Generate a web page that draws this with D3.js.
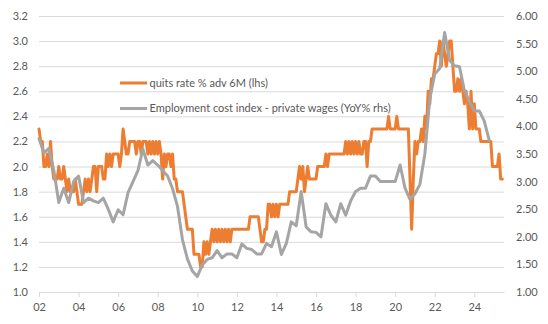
<!DOCTYPE html>
<html>
<head>
<meta charset="utf-8">
<script src="https://cdn.jsdelivr.net/npm/d3@7"></script>
<style>
  html, body { margin: 0; padding: 0; background: #fff; }
  svg { display: block; }
  text { font-family: Lato, "Open Sans", sans-serif; fill: #595959; }
</style>
</head>
<body>
<svg id="chart" width="548" height="324"></svg>
<script>
// JOLTS quits rate, advanced 6 months (monthly, first point = end of Dec 2001)
const quitsFirstMonth = { year: 2001, month: 12 };
const quitsAdv6m = [
  2.3,
  2.2, 2.2, 2.0, 2.0, 2.1, 2.0, 2.2, 2.0, 1.9, 1.9, 1.9, 2.0,   // 2002
  1.9, 1.9, 2.0, 1.9, 1.8, 1.9, 1.8, 1.8, 1.8, 1.9, 1.8, 1.7,   // 2003
  1.7, 1.7, 1.8, 1.9, 1.8, 1.9, 1.8, 1.9, 2.0, 2.0, 1.8, 2.0,   // 2004
  2.0, 2.0, 1.9, 1.9, 2.1, 2.0, 2.1, 2.0, 2.1, 2.1, 2.1, 2.1,   // 2005
  2.0, 2.1, 2.3, 2.2, 2.1, 2.1, 2.2, 2.2, 2.2, 2.2, 2.1, 2.2,   // 2006
  2.2, 2.1, 2.2, 2.2, 2.2, 2.1, 2.2, 2.1, 2.2, 2.1, 2.2, 2.1,   // 2007
  2.2, 2.1, 1.9, 2.1, 2.0, 2.1, 2.1, 2.0, 2.1, 1.9, 1.9, 1.8,   // 2008
  1.8, 1.8, 1.8, 1.7, 1.6, 1.5, 1.5, 1.5, 1.5, 1.3, 1.3, 1.3,   // 2009
  1.3, 1.2, 1.2, 1.4, 1.3, 1.4, 1.3, 1.4, 1.5, 1.4, 1.5, 1.4,   // 2010
  1.5, 1.4, 1.5, 1.4, 1.5, 1.4, 1.5, 1.4, 1.5, 1.5, 1.5, 1.5,   // 2011
  1.5, 1.5, 1.5, 1.5, 1.5, 1.5, 1.5, 1.6, 1.6, 1.6, 1.6, 1.6,   // 2012
  1.6, 1.5, 1.4, 1.4, 1.5, 1.5, 1.7, 1.7, 1.6, 1.7, 1.6, 1.7,   // 2013
  1.6, 1.7, 1.7, 1.7, 1.7, 1.7, 1.7, 1.8, 1.8, 1.8, 1.8, 1.8,   // 2014
  1.9, 2.0, 1.9, 2.0, 1.8, 1.9, 2.0, 1.9, 1.9, 1.9, 1.9, 1.9,   // 2015
  2.0, 2.0, 2.0, 2.0, 2.0, 2.1, 2.0, 2.1, 2.1, 2.1, 2.1, 2.1,   // 2016
  2.1, 2.1, 2.1, 2.1, 2.1, 2.2, 2.1, 2.2, 2.1, 2.2, 2.1, 2.2,   // 2017
  2.1, 2.2, 2.1, 2.1, 2.2, 2.2, 2.0, 2.2, 2.2, 2.3, 2.3, 2.3,   // 2018
  2.3, 2.3, 2.3, 2.3, 2.3, 2.3, 2.3, 2.4, 2.3, 2.3, 2.3, 2.3,   // 2019
  2.4, 2.3, 2.3, 2.3, 2.3, 2.3, 2.3, 2.3, 1.9, 1.5, 1.9, 2.2,   // 2020
  2.1, 2.2, 2.2, 2.3, 2.2, 2.4, 2.3, 2.6, 2.5, 2.7, 2.7, 2.8,   // 2021
  2.9, 2.9, 3.0, 2.8, 3.0, 2.9, 2.8, 2.9, 3.0, 3.0, 2.8, 2.6,   // 2022
  2.6, 2.7, 2.6, 2.7, 2.6, 2.5, 2.6, 2.5, 2.3, 2.6, 2.3, 2.5,   // 2023
  2.3, 2.3, 2.3, 2.2, 2.2, 2.2, 2.2, 2.2, 2.2, 2.2, 2.0, 2.0,   // 2024
  2.0, 2.0, 2.1, 1.9, 1.9                                       // 2025
];

// Employment cost index, private wages & salaries, YoY % (quarterly, first point = end of 2001 Q4)
const eciFirstQuarter = { year: 2001, quarter: 4 };
const eciWagesYoY = [
  3.78,
  3.52, 3.60, 3.20, 2.62,   // 2002
  2.88, 2.62, 3.00, 3.10,   // 2003
  2.62, 2.70, 2.65, 2.62,   // 2004
  2.70, 2.50, 2.27, 2.49,   // 2005
  2.40, 2.80, 3.00, 3.20,   // 2006
  3.59, 3.30, 3.38, 3.30,   // 2007
  3.20, 3.10, 2.87, 2.55,   // 2008
  1.95, 1.60, 1.38, 1.28,   // 2009
  1.49, 1.59, 1.62, 1.75,   // 2010
  1.62, 1.69, 1.69, 1.62,   // 2011
  1.87, 1.79, 1.77, 1.69,   // 2012
  1.69, 1.88, 1.82, 2.09,   // 2013
  1.68, 1.88, 2.27, 2.20,   // 2014
  2.82, 2.18, 2.09, 2.08,   // 2015
  2.00, 2.60, 2.39, 2.27,   // 2016
  2.60, 2.39, 2.65, 2.82,   // 2017
  2.88, 2.88, 3.10, 3.10,   // 2018
  3.00, 3.00, 3.00, 3.00,   // 2019
  3.30, 2.88, 2.68, 2.78,   // 2020
  2.95, 3.50, 4.50, 4.95,   // 2021
  5.05, 5.70, 5.20, 5.10,   // 2022
  5.08, 4.65, 4.45, 4.28,   // 2023
  4.28, 4.10, 3.75          // 2024
];

const leftTicks  = [1.0, 1.2, 1.4, 1.6, 1.8, 2.0, 2.2, 2.4, 2.6, 2.8, 3.0, 3.2];
const rightTicks = [1.0, 1.5, 2.0, 2.5, 3.0, 3.5, 4.0, 4.5, 5.0, 5.5, 6.0];
const yearTicks  = [2002, 2004, 2006, 2008, 2010, 2012, 2014, 2016, 2018, 2020, 2022, 2024];
const yearLabels = ["02", "04", "06", "08", "10", "12", "14", "16", "18", "20", "22", "24"];
const seriesNames = ["quits rate % adv 6M (lhs)", "Employment cost index - private wages (YoY% rhs)"];
const seriesColors = ["#ED7D31", "#A5A5A5"];

// Decimal-year positions (end of each period)
const quitsData = quitsAdv6m.map((v, i) => ({
  t: quitsFirstMonth.year + (quitsFirstMonth.month + i) / 12, v
}));
const eciData = eciWagesYoY.map((v, k) => ({
  t: eciFirstQuarter.year + (eciFirstQuarter.quarter + k) / 4, v
}));

const svg = d3.select("#chart");
const plot = { left: 39, right: 504, top: 16, bottom: 292 };

const x  = d3.scaleLinear().domain([2002, 2025.5]).range([plot.left, plot.right]);
const yL = d3.scaleLinear().domain([1.0, 3.2]).range([plot.bottom, plot.top]);
const yR = d3.scaleLinear().domain([1.0, 6.0]).range([plot.bottom, plot.top]);

// horizontal gridlines from the left scale
const grid = svg.append("g")
  .attr("transform", `translate(${plot.left},0)`)
  .call(d3.axisLeft(yL).tickValues(leftTicks.slice(1)).tickSize(-(plot.right - plot.left)).tickFormat(""));
grid.select(".domain").remove();
grid.selectAll("line").attr("stroke", "#d9d9d9").attr("stroke-width", 1);

// left axis labels
const gL = svg.append("g")
  .attr("transform", `translate(${plot.left},0)`)
  .call(d3.axisLeft(yL).tickValues(leftTicks).tickSize(0).tickPadding(11).tickFormat(d3.format(".1f")));
gL.select(".domain").remove();
gL.selectAll("text").style("font-size", "11px").attr("fill", "#595959");

// right axis labels
const gR = svg.append("g")
  .attr("transform", `translate(${plot.right},0)`)
  .call(d3.axisRight(yR).tickValues(rightTicks).tickSize(0).tickPadding(12).tickFormat(d3.format(".2f")));
gR.select(".domain").remove();
gR.selectAll("text").style("font-size", "11px").attr("fill", "#595959");

// bottom axis
const gB = svg.append("g")
  .attr("transform", `translate(0,${plot.bottom})`)
  .call(d3.axisBottom(x).tickValues(yearTicks).tickSize(5).tickSizeOuter(0).tickPadding(6)
    .tickFormat((d, i) => yearLabels[i]));
gB.select(".domain").attr("stroke", "#d9d9d9");
gB.selectAll("line").attr("stroke", "#d9d9d9");
gB.selectAll("text").style("font-size", "11px").attr("fill", "#595959");

// series lines
const lineL = d3.line().x(d => x(d.t)).y(d => yL(d.v));
const lineR = d3.line().x(d => x(d.t)).y(d => yR(d.v));

svg.append("path").datum(quitsData)
  .attr("d", lineL).attr("fill", "none")
  .attr("stroke", seriesColors[0]).attr("stroke-width", 3)
  .attr("stroke-linejoin", "round").attr("stroke-linecap", "round");

svg.append("path").datum(eciData)
  .attr("d", lineR).attr("fill", "none")
  .attr("stroke", seriesColors[1]).attr("stroke-width", 3)
  .attr("stroke-linejoin", "round").attr("stroke-linecap", "round");

// legend
const legend = svg.append("g").attr("transform", "translate(120,83)");
seriesNames.forEach((name, i) => {
  const row = legend.append("g").attr("transform", `translate(0,${i * 25.5})`);
  row.append("line").attr("x1", 0).attr("x2", 27).attr("y1", 0).attr("y2", 0)
    .attr("stroke", seriesColors[i]).attr("stroke-width", 3);
  row.append("text").attr("x", 29.5).attr("y", 0).attr("dy", "0.35em")
    .style("font-size", "11px").attr("fill", "#595959").text(name);
});
</script>
</body>
</html>
